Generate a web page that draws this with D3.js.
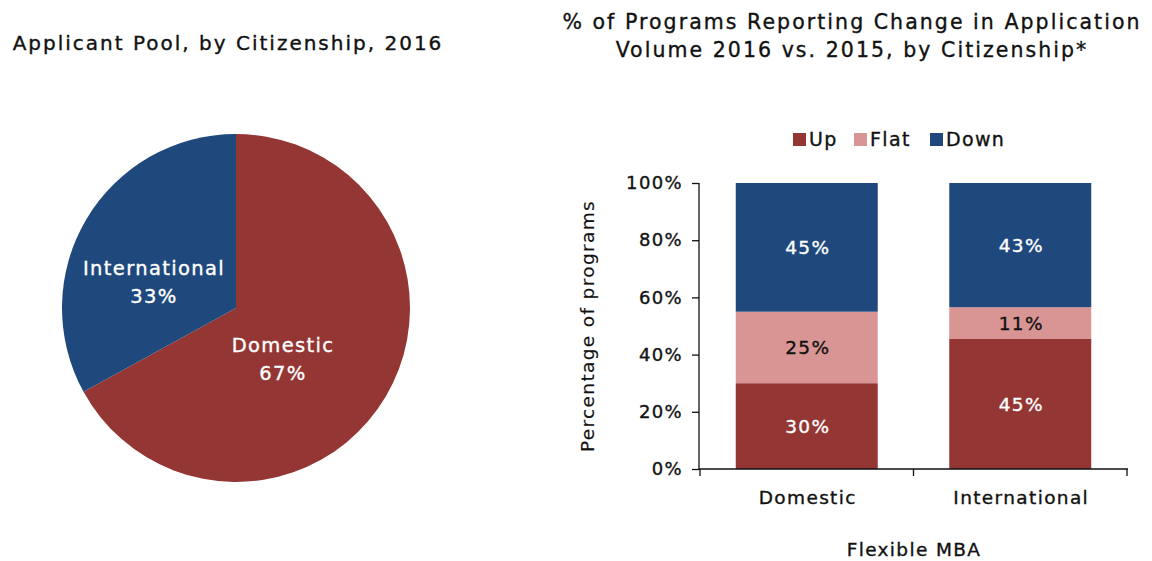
<!DOCTYPE html>
<html><head><meta charset="utf-8">
<script src="https://cdn.jsdelivr.net/npm/d3@7"></script>
<style>body{margin:0;background:#fff}svg{display:block;font-family:"DejaVu Sans",sans-serif;letter-spacing:0.085em}
text{stroke:currentColor;stroke-width:0.35px}</style>
</head><body>
<svg id="c" width="1152" height="561"></svg>
<script>
const pieCategories = ["Domestic", "International"];
const pieValues = [67, 33];
const barCategories = ["Domestic", "International"];
const seriesNames = ["Up", "Flat", "Down"];
const upValues = [30, 45];
const flatValues = [25, 11];
const downValues = [45, 43];
const yTicks = [0, 20, 40, 60, 80, 100];

const colors = {Up: "#943634", Flat: "#D99594", Down: "#1F497D", Domestic: "#943634", International: "#1F497D"};
const svg = d3.select("#c");
const txt = (sel, c) => sel.attr("fill", c).style("color", c);

// Pie
txt(svg.append("text").attr("x", 228).attr("y", 50).attr("text-anchor", "middle")
  .attr("font-size", 20).attr("letter-spacing", "0.1em"), "#111")
  .text("Applicant Pool, by Citizenship, 2016");
const pieData = pieCategories.map((c, i) => ({cat: c, v: pieValues[i]}));
const pie = d3.pie().value(d => d.v).sort(null);
const arc = d3.arc().innerRadius(0).outerRadius(174);
const pg = svg.append("g").attr("transform", "translate(236,308)");
const arcs = pie(pieData);
pg.selectAll("path").data(arcs).join("path").attr("d", arc).attr("fill", d => colors[d.data.cat]);
const pieLabelPos = {Domestic: [47, 44], International: [-82, -33]};
arcs.forEach(a => {
  const p = pieLabelPos[a.data.cat];
  const t = txt(pg.append("text").attr("text-anchor", "middle").attr("font-size", 19.5), "#fff");
  t.append("tspan").attr("x", p[0]).attr("y", p[1]).text(a.data.cat);
  t.append("tspan").attr("x", p[0]).attr("y", p[1] + 28).text(a.data.v + "%");
});

// Bar chart
const bt = txt(svg.append("text").attr("text-anchor", "middle").attr("font-size", 20.5).attr("letter-spacing", "0.1em"), "#111");
bt.append("tspan").attr("x", 852).attr("y", 29).text("% of Programs Reporting Change in Application");
bt.append("tspan").attr("x", 852).attr("y", 57).text("Volume 2016 vs. 2015, by Citizenship*");

const x = d3.scaleBand().domain(barCategories).range([700, 1127]).paddingInner(0.335).paddingOuter(0.1675);
const y = d3.scaleLinear().domain([0, 1]).range([469, 183]);
const rows = barCategories.map((c, i) => ({cat: c, Up: upValues[i], Flat: flatValues[i], Down: downValues[i]}));
const stack = d3.stack().keys(seriesNames).offset(d3.stackOffsetExpand);
const series = stack(rows);

const bg = svg.append("g");
series.forEach(s => {
  bg.selectAll(null).data(s).join("rect")
    .attr("x", d => x(d.data.cat)).attr("width", x.bandwidth())
    .attr("y", d => y(d[1])).attr("height", d => y(d[0]) - y(d[1]))
    .attr("fill", colors[s.key]);
  txt(bg.selectAll(null).data(s).join("text")
    .attr("x", d => x(d.data.cat) + x.bandwidth() / 2 + 1)
    .attr("y", d => (y(d[0]) + y(d[1])) / 2 + 7)
    .attr("text-anchor", "middle").attr("font-size", 18.5), s.key === "Flat" ? "#111" : "#fff")
    .text(d => d.data[s.key] + "%");
});

// Y axis
const ya = svg.append("g").attr("transform", "translate(699,0)")
  .call(d3.axisLeft(y).tickValues(yTicks.map(v => v / 100)).tickSize(7).tickPadding(9).tickFormat(d => Math.round(d * 100) + "%"));
txt(ya.selectAll("text").attr("font-size", 18).attr("font-family", "DejaVu Sans"), "#111");
ya.selectAll("line,path").attr("stroke", "#111").attr("stroke-width", 1.3);
ya.select("path.domain").attr("d", "M0,183V469");

// X axis
const xa = svg.append("g").attr("transform", "translate(0,469)");
xa.append("line").attr("x1", 699).attr("x2", 1128).attr("stroke", "#111").attr("stroke-width", 1.3);
const bounds = [x.range()[0], (x("Domestic") + x.bandwidth() + x("International")) / 2, x.range()[1]];
xa.selectAll("line.t").data(bounds).join("line").attr("class", "t")
  .attr("x1", d => d).attr("x2", d => d).attr("y1", 0).attr("y2", 7).attr("stroke", "#111").attr("stroke-width", 1.3);
txt(xa.selectAll("text").data(barCategories).join("text")
  .attr("x", d => x(d) + x.bandwidth() / 2 + 1).attr("y", 35).attr("text-anchor", "middle")
  .attr("font-size", 18.5), "#111").text(d => d);

txt(svg.append("text").attr("x", 914).attr("y", 556).attr("text-anchor", "middle")
  .attr("font-size", 18.5), "#111").text("Flexible MBA");
txt(svg.append("text").attr("transform", "translate(594,326) rotate(-90)").attr("text-anchor", "middle")
  .attr("font-size", 18.5), "#111").style("stroke-width", "0.15px").text("Percentage of programs");

// Legend
const legendX = [793, 854, 930];
const lg = svg.append("g");
seriesNames.forEach((n, i) => {
  lg.append("rect").attr("x", legendX[i]).attr("y", 133).attr("width", 13).attr("height", 13).attr("fill", colors[n]);
  txt(lg.append("text").attr("x", legendX[i] + 16).attr("y", 146).attr("font-size", 19), "#111").text(n);
});
</script>
</body></html>
